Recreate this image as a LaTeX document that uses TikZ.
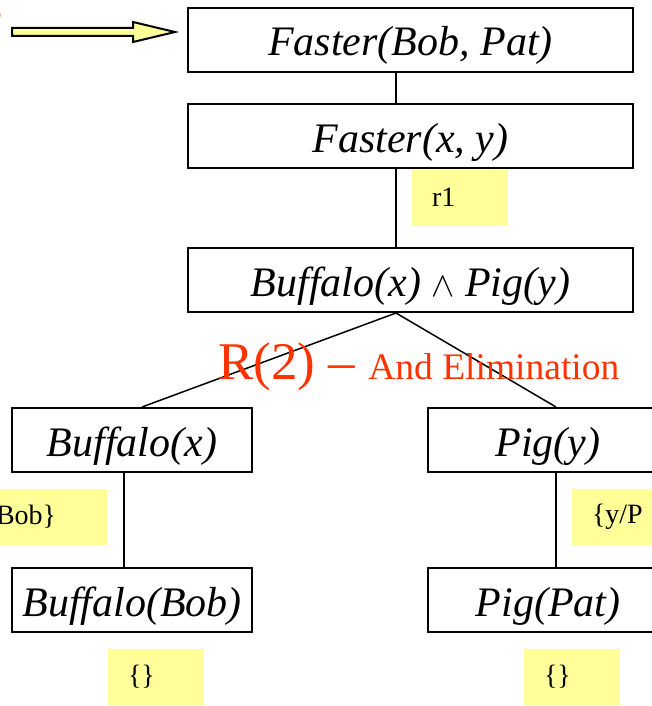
\documentclass[tikz,border=0pt]{standalone}
\usepackage{fontspec}
\setmainfont{Liberation Serif}
\definecolor{notepad}{RGB}{255,255,153}
\definecolor{rulered}{RGB}{255,51,0}
\begin{document}
\begin{tikzpicture}[x=1pt,y=-1pt,
  goal/.style={draw,line width=2pt,inner sep=0pt,minimum width=445pt,minimum height=64pt,
    text height=32pt,text depth=0pt,font=\fontsize{42}{48}\selectfont\itshape},
  fact/.style={goal,minimum width=240pt},
  subst/.style={fill=notepad,inner xsep=20pt,inner ysep=0pt,text width=56pt,align=left,
    minimum height=56pt,font=\fontsize{28}{32}\selectfont},
  link/.style={line width=1.5pt}]
\useasboundingbox (0,0) rectangle (652,706);
\clip (0,0) rectangle (652,706);
\coordinate (spine) at (396,0);
% goal chain
\node[goal] (query) at (410.5,40) {Faster(Bob, Pat)};
\node[goal] (head) at (410.5,136) {Faster(x, y)};
\node[subst] (r1) at (460,197.5) {r1};
\node[goal] (body) at (410.5,280) {Buffalo(x) \scalebox{1.4}{$\wedge$} Pig(y)};
% the two conjuncts
\node[fact] (buffx) at (132,440) {Buffalo(x)};
\node[fact] (pigy) at (548,440) {Pig(y)};
\node[subst,text width=91pt] (xbob) at (41.5,516.5) {Bob\}};
\node[subst] (ypat) at (620,516.5) {\{y/P};
\node[fact] (buffbob) at (132,600) {Buffalo(Bob)};
\node[fact] (pigpat) at (548,600) {Pig(Pat)};
\node[subst] (emptyl) at (156,677) {\{\}};
\node[subst] (emptyr) at (572,677) {\{\}};
% links
\draw[link] (query.south -| spine) -- (head.north -| spine);
\draw[link] (head.south -| spine) -- (body.north -| spine);
\draw[link] (body.south -| spine) -- ([xshift=10pt]buffx.north);
\draw[link] (body.south -| spine) -- ([xshift=8pt]pigy.north);
\draw[link] ([xshift=-8pt]buffx.south) -- ([xshift=-8pt]buffbob.north);
\draw[link] ([xshift=8pt]pigy.south) -- ([xshift=8pt]pigpat.north);
% rule label
\node[anchor=base west,text=rulered,inner sep=0pt] (rulename) at (218,379)
  {\fontsize{53}{60}\selectfont R(2) -- \fontsize{37.5}{42}\selectfont And Elimination};
% pointer to the query (label cut off at the left edge)
\draw[rulered,line width=2pt] (-4,21) arc[start angle=60,end angle=-60,radius=7];
\filldraw[fill=notepad,line width=2pt] (12,28) -- (133,28) -- (133,22) -- (175,32)
  -- (133,42) -- (133,36) -- (12,36) -- cycle;
\end{tikzpicture}
\end{document}
